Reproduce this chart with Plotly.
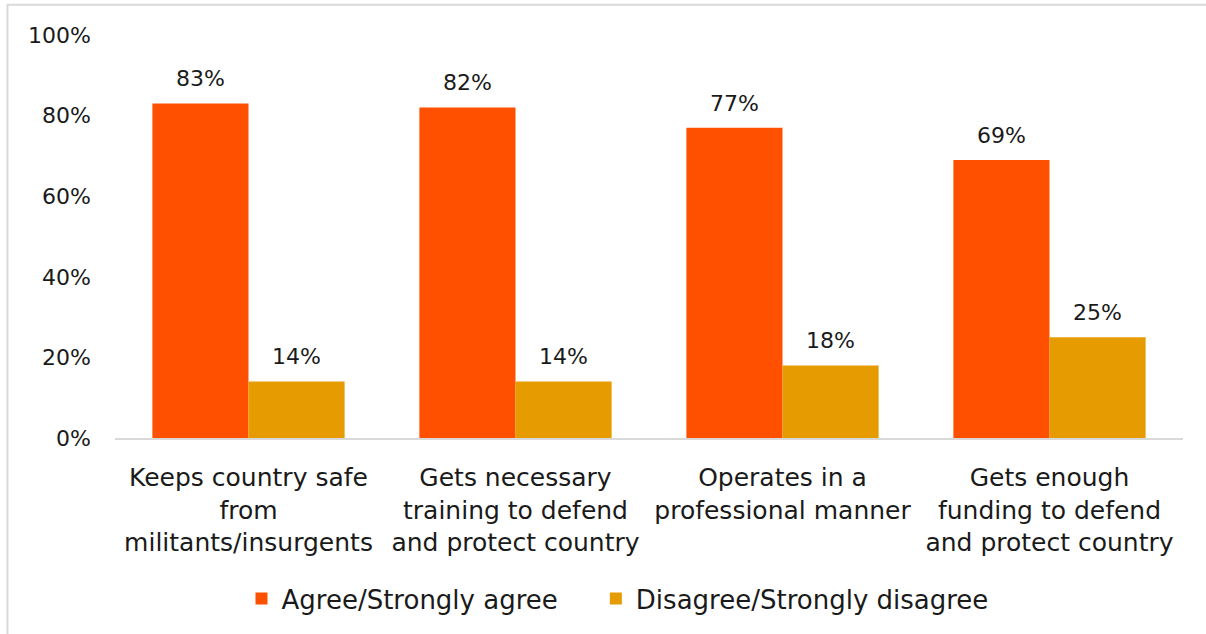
import plotly.graph_objects as go

categories = [
    "Keeps country safe<br>from<br>militants/insurgents",
    "Gets necessary<br>training to defend<br>and protect country",
    "Operates in a<br>professional manner",
    "Gets enough<br>funding to defend<br>and protect country",
]
agree = [83, 82, 77, 69]
disagree = [14, 14, 18, 25]
series_names = ["Agree/Strongly agree", "Disagree/Strongly disagree"]
colors = ["#FF5000", "#E69C00"]

FONT = "DejaVu Sans"
TXT = "#1a1a1a"
PAD = "\u00a0" * 4  # extra spacing between legend entries

fig = go.Figure()
for i, (name, vals, col) in enumerate(zip(series_names, [agree, disagree], colors)):
    fig.add_trace(go.Bar(
        x=categories, y=vals, name=name + (PAD if i == 0 else ""),
        marker=dict(color=col, line=dict(width=0)),
        hoverinfo="skip",
    ))
# value labels, grouped like the bars
for name, vals in zip(series_names, [agree, disagree]):
    fig.add_trace(go.Scatter(
        x=categories, y=vals, mode="markers+text",
        text=[f"{v}%" for v in vals], textposition="top center",
        textfont=dict(size=22, color=TXT, family=FONT),
        marker=dict(size=17, color="rgba(0,0,0,0)"),
        showlegend=False, hoverinfo="skip", cliponaxis=False,
    ))

fig.update_layout(
    width=1206, height=634,
    margin=dict(l=115, r=23, t=35, b=192),
    paper_bgcolor="white", plot_bgcolor="white",
    barmode="group", bargap=0.28, bargroupgap=0,
    scattermode="group", scattergap=0.28,
    font=dict(family=FONT, color=TXT),
    legend=dict(orientation="h", x=0.4705, xanchor="center", y=-0.34, yanchor="top",
                font=dict(size=26, family=FONT), itemwidth=30, traceorder="normal"),
    showlegend=True,
    shapes=[dict(type="rect", xref="paper", yref="paper",
                 x0=-0.1007, x1=1.3, y0=-1.0, y1=1.0749,
                 line=dict(color="#d9d9d9", width=2), fillcolor="rgba(0,0,0,0)", layer="below")],
)
fig.update_yaxes(range=[0, 100], dtick=20, ticksuffix="%", showgrid=False, zeroline=False,
                 showline=False, tickfont=dict(size=22, family=FONT), ticklabelstandoff=23)
fig.update_xaxes(showline=True, linecolor="#d9d9d9", linewidth=2, showgrid=False,
                 tickfont=dict(size=25, family=FONT), ticklabelstandoff=16, tickangle=0)

fig.write_html("out.html", config={"displayModeBar": False},
               post_script="document.body.style.margin='0px';document.body.style.overflow='hidden';")
